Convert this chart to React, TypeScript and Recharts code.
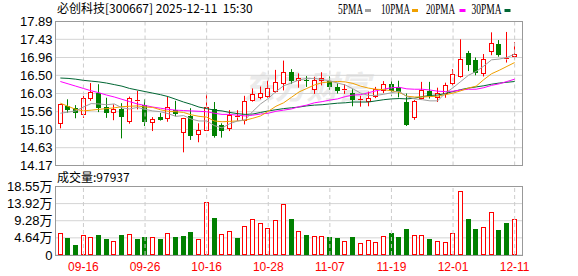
import React from 'react';
import { ComposedChart, Bar, Line, XAxis, YAxis, CartesianGrid, ReferenceLine } from 'recharts';

const dates = ['09-11','09-12','09-15','09-16','09-17','09-18','09-19','09-22','09-23','09-24','09-25','09-26','09-29','09-30','10-09','10-10','10-13','10-14','10-15','10-16','10-17','10-20','10-21','10-22','10-23','10-24','10-27','10-28','10-29','10-30','10-31','11-03','11-04','11-05','11-06','11-07','11-10','11-11','11-12','11-13','11-14','11-17','11-18','11-19','11-20','11-21','11-24','11-25','11-26','11-27','11-28','12-01','12-02','12-03','12-04','12-05','12-08','12-09','12-10','12-11'];

const opens = [15.27,15.71,15.65,15.51,15.92,16.05,15.68,15.55,15.64,15.32,
  15.86,15.74,15.30,15.43,15.39,15.60,15.03,15.46,14.99,15.09,
  15.63,15.22,15.13,15.44,15.34,15.86,15.94,15.97,16.10,16.29,
  16.59,16.37,16.39,16.15,16.38,16.36,16.19,16.12,16.05,15.86,
  15.83,15.97,16.13,16.27,16.20,15.82,15.41,15.92,16.10,15.95,
  16.05,16.31,16.48,17.07,16.89,16.57,17.13,17.30,16.92,16.99];
const highs = [15.76,15.88,15.73,15.97,16.30,16.27,15.92,15.75,15.78,15.95,
  16.10,15.88,15.42,15.53,15.94,15.84,15.40,15.65,15.26,16.01,
  15.81,15.26,15.60,15.60,15.97,16.16,16.21,16.36,16.64,16.88,
  16.66,16.55,16.48,16.46,16.58,16.47,16.29,16.27,16.14,15.97,
  16.08,16.20,16.35,16.40,16.36,16.03,15.86,16.33,16.33,16.18,
  16.31,16.66,17.43,17.13,16.96,17.05,17.61,17.41,17.62,17.36];
const lows = [15.13,15.53,15.39,15.40,15.84,15.55,15.40,15.34,14.87,15.25,
  15.62,15.19,15.06,15.33,15.30,15.44,14.51,14.83,14.77,15.09,
  14.89,14.89,15.06,15.32,15.23,15.82,15.88,15.92,16.05,16.11,
  16.28,16.18,16.20,16.02,16.24,16.13,16.03,16.02,15.70,15.69,
  15.70,15.91,16.04,15.96,15.93,15.19,15.35,15.88,15.90,15.81,
  15.92,16.24,16.44,16.61,16.50,16.47,17.02,16.98,16.83,16.91];
const closes = [15.75,15.60,15.52,15.92,16.08,15.66,15.52,15.62,15.42,15.92,
  15.87,15.29,15.38,15.34,15.68,15.50,15.39,14.94,15.09,15.68,
  14.92,15.06,15.48,15.45,15.83,16.01,16.05,16.16,16.34,16.59,
  16.35,16.44,16.35,16.38,16.44,16.20,16.10,16.14,15.87,15.88,
  15.92,16.14,16.27,16.10,16.07,15.22,15.84,16.12,15.97,16.04,
  16.24,16.53,16.92,16.76,16.57,16.92,17.33,17.02,16.94,17.05];
// volume in 万 (10k lots)
const volumes = [5.88,4.52,2.71,5.34,4.80,5.43,4.34,3.80,5.43,5.70,
  4.34,4.89,4.89,4.34,5.88,4.89,5.25,6.24,4.34,14.30,
  10.04,5.70,6.42,4.61,7.87,9.68,8.60,7.24,9.41,13.75,
  9.77,6.42,5.43,5.16,5.16,4.89,4.61,3.71,4.89,3.26,
  3.98,3.53,5.16,5.97,4.89,7.06,5.43,5.43,4.34,3.71,
  3.53,5.88,17.37,9.77,7.06,7.60,11.67,6.79,8.69,9.79];
const ma5 = [15.52,15.55,15.58,15.68,15.77,15.76,15.74,15.76,15.66,15.63,
  15.67,15.62,15.58,15.56,15.51,15.44,15.46,15.37,15.32,15.32,
  15.20,15.14,15.25,15.32,15.35,15.57,15.76,15.90,16.08,16.23,
  16.30,16.38,16.42,16.42,16.39,16.36,16.30,16.25,16.15,16.04,
  15.98,15.98,16.01,16.05,16.09,15.95,15.89,15.87,15.84,15.84,
  16.04,16.18,16.34,16.50,16.60,16.74,16.90,16.92,16.96,17.05];
const ma10 = [15.78,15.70,15.62,15.58,15.60,15.62,15.64,15.66,15.69,15.70,
  15.71,15.68,15.67,15.61,15.57,15.56,15.54,15.48,15.44,15.42,
  15.32,15.30,15.31,15.32,15.34,15.39,15.45,15.57,15.70,15.79,
  15.93,16.07,16.16,16.25,16.31,16.33,16.34,16.33,16.29,16.22,
  16.17,16.14,16.13,16.10,16.06,15.96,15.94,15.94,15.95,15.96,
  16.00,16.04,16.10,16.17,16.22,16.39,16.54,16.63,16.73,16.83];
const ma20 = [16.34,16.28,16.22,16.16,16.10,16.05,15.99,15.94,15.88,15.82,
  15.76,15.72,15.68,15.65,15.62,15.60,15.59,15.58,15.57,15.56,
  15.52,15.49,15.49,15.47,15.45,15.47,15.50,15.52,15.57,15.60,
  15.63,15.69,15.73,15.79,15.82,15.86,15.89,15.95,15.99,16.00,
  16.05,16.10,16.14,16.18,16.19,16.15,16.14,16.14,16.12,16.09,
  16.08,16.09,16.12,16.14,16.14,16.18,16.24,16.28,16.34,16.40];
const ma30 = [16.43,16.42,16.40,16.37,16.35,16.33,16.30,16.26,16.22,16.16,
  16.12,16.08,16.04,16.00,15.95,15.88,15.81,15.75,15.68,15.64,
  15.60,15.58,15.54,15.51,15.49,15.50,15.54,15.58,15.61,15.64,
  15.66,15.68,15.71,15.73,15.74,15.76,15.78,15.79,15.81,15.81,
  15.81,15.84,15.87,15.89,15.90,15.89,15.91,15.95,15.98,15.99,
  16.03,16.08,16.13,16.17,16.20,16.23,16.27,16.30,16.32,16.34];

const priceTicks = [14.17, 14.63, 15.10, 15.56, 16.03, 16.50, 16.96, 17.43, 17.89];
const volTicks = [0, 4.64, 9.28, 13.92, 18.55];
const dateLabels = ['09-16','09-26','10-16','10-28','11-07','11-19','12-01','12-11'];

const RED = '#ff0000';
const GREEN = '#008000';
const C5 = '#a0a0a0';
const C10 = '#f0a000';
const C20 = '#ff00ff';
const C30 = '#006633';
const W = 578;
const H = 276;

function Candle(props: any) {
  const { x, y, width, height, payload } = props;
  if (x == null || y == null || payload == null) return null;
  const { open, close, high, low } = payload;
  const top = Math.min(y, y + height);
  const h = Math.abs(height);
  const span = high - low;
  const py = (v: number) => top + (span > 0 ? ((high - v) / span) * h : 0);
  const c = Math.floor(x + width / 2);
  const up = close >= open;
  const yHigh = py(high);
  const yLow = py(low);
  const bTop = Math.round(py(Math.max(open, close)));
  const bBot = Math.round(py(Math.min(open, close)));
  if (up) {
    const bh = Math.max(bBot - bTop, 1);
    return (
      <g>
        <line x1={c + 0.5} x2={c + 0.5} y1={yHigh} y2={bTop + 0.5} stroke={RED} />
        <line x1={c + 0.5} x2={c + 0.5} y1={bTop + bh + 0.5} y2={yLow} stroke={RED} />
        {bh > 1 ? (
          <rect x={c - 1.5} y={bTop + 0.5} width={4} height={bh} fill="#fff" stroke={RED} />
        ) : (
          <line x1={c - 2} x2={c + 3} y1={bTop + 0.5} y2={bTop + 0.5} stroke={RED} />
        )}
      </g>
    );
  }
  return (
    <g>
      <line x1={c + 0.5} x2={c + 0.5} y1={yHigh} y2={yLow} stroke={GREEN} />
      <rect x={c - 2} y={bTop} width={5} height={Math.max(bBot - bTop, 1)} fill={GREEN} />
    </g>
  );
}

function VolBar(props: any) {
  const { x, y, width, height, payload } = props;
  if (x == null || y == null || payload == null) return null;
  const c = Math.floor(x + width / 2);
  const t = Math.round(Math.min(y, y + height));
  const b = Math.round(Math.max(y, y + height));
  if (payload.volUp) {
    return <rect x={c - 1.5} y={t + 0.5} width={4} height={Math.max(b - t - 1, 1)} fill="#fff" stroke={RED} />;
  }
  return <rect x={c - 2} y={t} width={5} height={Math.max(b - t, 1)} fill={GREEN} />;
}

const labelSet = new Set(dateLabels);

export default function App() {
  const data = dates.map((d, i) => ({
    date: d,
    open: opens[i],
    high: highs[i],
    low: lows[i],
    close: closes[i],
    range: [lows[i], highs[i]],
    vol: volumes[i],
    volUp: i === 0 ? closes[i] >= opens[i] : closes[i] >= closes[i - 1],
    ma5: ma5[i],
    ma10: ma10[i],
    ma20: ma20[i],
    ma30: ma30[i],
  }));
  const font = "'Liberation Sans', 'Noto Sans CJK SC', sans-serif";
  const cjk = "'Noto Sans CJK SC', sans-serif";
  const serif = "'Liberation Serif', serif";
  const axisTick = { fill: '#000', fontSize: 13 };
  return (
    <div style={{ position: 'absolute', left: 0, top: 0, width: W, height: H, background: '#fff', fontFamily: font, overflow: 'hidden' }}>
      <svg width={W} height={H} style={{ position: 'absolute', left: 0, top: 0 }}>
        <text x={243} y={99} fontSize={32} fontWeight={700} fontStyle="italic" fontFamily={cjk} fill="#ebebeb" textLength={127} lengthAdjust="spacingAndGlyphs">东方财富</text>
      </svg>
      <div style={{ position: 'absolute', left: 0, top: 0 }}>
        <ComposedChart width={W} height={H} data={data} margin={{ top: 21.5, right: 55.5, bottom: 110.5, left: 0.5 }}>
          <CartesianGrid vertical={false} stroke="#d4d4d4" />
          <XAxis dataKey="date" hide padding={{ left: 1, right: 4 }} />
          <YAxis
            domain={[14.17, 17.89]}
            ticks={priceTicks}
            interval={0}
            width={55}
            tickSize={0}
            tickMargin={3}
            axisLine={false}
            tickLine={false}
            tick={axisTick}
            tickFormatter={(v: number) => v.toFixed(2)}
          />
          {dateLabels.map((d) => (
            <ReferenceLine key={d} x={d} stroke="#cccccc" strokeDasharray="4 3" />
          ))}
          <Bar dataKey="range" barSize={5} isAnimationActive={false} shape={(p: any) => <Candle {...p} />} />
          <Line dataKey="ma30" stroke={C30} strokeWidth={1} dot={false} activeDot={false} isAnimationActive={false} />
          <Line dataKey="ma20" stroke={C20} strokeWidth={1} dot={false} activeDot={false} isAnimationActive={false} />
          <Line dataKey="ma10" stroke={C10} strokeWidth={1} dot={false} activeDot={false} isAnimationActive={false} />
          <Line dataKey="ma5" stroke={C5} strokeWidth={1} dot={false} activeDot={false} isAnimationActive={false} />
        </ComposedChart>
      </div>
      <div style={{ position: 'absolute', left: 0, top: 0 }}>
        <ComposedChart width={W} height={H} data={data} margin={{ top: 186.5, right: 55.5, bottom: 0, left: 0.5 }}>
          <CartesianGrid vertical={false} stroke="#d4d4d4" />
          <XAxis
            dataKey="date"
            padding={{ left: 1, right: 4 }}
            height={21}
            tickSize={0}
            tickMargin={7}
            axisLine={false}
            tickLine={false}
            interval={0}
            tick={{ fill: RED, fontSize: 12 }}
            tickFormatter={(v: string) => (labelSet.has(v) ? v : '')}
          />
          <YAxis
            domain={[0, 18.55]}
            ticks={volTicks}
            interval={0}
            width={55}
            tickSize={0}
            tickMargin={3}
            axisLine={false}
            tickLine={false}
            tick={axisTick}
            tickFormatter={(v: number) => (v === 0 ? '0' : v.toFixed(2) + '万')}
          />
          {dateLabels.map((d) => (
            <ReferenceLine key={d} x={d} stroke="#cccccc" strokeDasharray="4 3" />
          ))}
          <Bar dataKey="vol" barSize={5} isAnimationActive={false} shape={(p: any) => <VolBar {...p} />} />
        </ComposedChart>
      </div>
      <div style={{ position: 'absolute', left: 55, top: 21, width: 468, height: 145, boxSizing: 'border-box', border: '1px solid #999', pointerEvents: 'none' }} />
      <div style={{ position: 'absolute', left: 55, top: 186, width: 468, height: 70, boxSizing: 'border-box', border: '1px solid #999', pointerEvents: 'none' }} />
      <svg width={W} height={H} style={{ position: 'absolute', left: 0, top: 0, pointerEvents: 'none' }}>
        <text x={57} y={13} fontSize={12} fontFamily={cjk} fill="#000" style={{ whiteSpace: 'pre' }}>必创科技[300667] 2025-12-11  15:30</text>
        <text x={338} y={13.5} fontSize={14} fontFamily={serif} fill="#000" textLength={25} lengthAdjust="spacingAndGlyphs">5PMA</text>
        <rect x={365} y={9} width={6} height={3} fill={C5} />
        <text x={381} y={13.5} fontSize={14} fontFamily={serif} fill="#000" textLength={29} lengthAdjust="spacingAndGlyphs">10PMA</text>
        <rect x={412} y={9} width={6} height={3} fill={C10} />
        <text x={426} y={13.5} fontSize={14} fontFamily={serif} fill="#000" textLength={29} lengthAdjust="spacingAndGlyphs">20PMA</text>
        <rect x={459.5} y={9} width={6} height={3} fill={C20} />
        <text x={471.5} y={13.5} fontSize={14} fontFamily={serif} fill="#000" textLength={30} lengthAdjust="spacingAndGlyphs">30PMA</text>
        <rect x={504.5} y={9} width={6} height={3} fill={C30} />
        <text x={57} y={182} fontSize={12} fontFamily={cjk} fill="#000">成交量:97937</text>
      </svg>
    </div>
  );
}
